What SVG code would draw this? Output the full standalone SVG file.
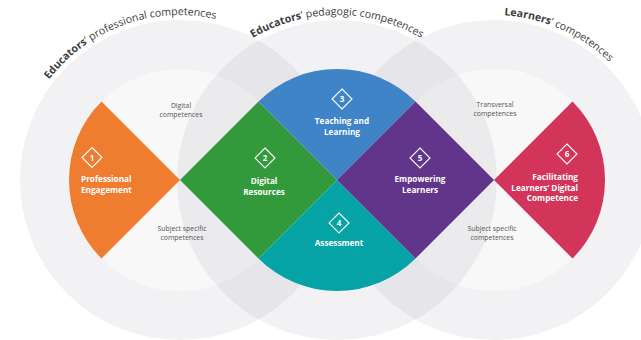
<svg xmlns="http://www.w3.org/2000/svg" xmlns:xlink="http://www.w3.org/1999/xlink" width="641" height="340" viewBox="0 0 641 340">
<style>
.ring{fill:none;stroke:#9a9aa8;stroke-opacity:0.13;stroke-width:49}
.inner{fill:#9a9aa8;fill-opacity:0.07}
.arc{font-family:"Open Sans","Liberation Sans",sans-serif;font-size:10.6px;fill:#3c3c3c}
.arc .b{font-weight:bold}
.lbl{font-family:"Open Sans","Liberation Sans",sans-serif;font-size:8.2px;font-weight:bold;fill:#fff}
.num{font-family:"Open Sans","Liberation Sans",sans-serif;font-size:8px;font-weight:bold;fill:#fff;text-anchor:middle}
.sm{font-family:"Open Sans","Liberation Sans",sans-serif;font-size:6.9px;fill:#555;text-anchor:middle}
.ic{fill:none;stroke:#fff;stroke-width:1.1}
</style>
<defs>
<path id="dia" d="M0,-10 L10,0 L0,10 L-10,0 Z"/>
<path id="pL" d="M15,180 A165 165 0 0 1 345,180"/>
<path id="pM" d="M172,180 A165 165 0 0 1 502,180"/>
<path id="pR" d="M329,180 A165 165 0 0 1 659,180"/>
</defs>
<rect width="641" height="340" fill="#fff"/>
<g id="background">
<circle class="ring" cx="180" cy="180" r="135.5"/>
<circle class="ring" cx="337" cy="180" r="135.5"/>
<circle class="ring" cx="494" cy="180" r="135.5"/>
<circle class="inner" cx="180" cy="180" r="111"/>
<circle class="inner" cx="337" cy="180" r="111"/>
<circle class="inner" cx="494" cy="180" r="111"/>
</g>
<g id="arc-titles">
<text class="arc"><textPath href="#pL" xlink:href="#pL" startOffset="38.9%" text-anchor="middle"><tspan class="b">Educators</tspan>’ professional competences</textPath></text>
<text class="arc"><textPath href="#pM" xlink:href="#pM" startOffset="50%" text-anchor="middle"><tspan class="b">Educators</tspan>’ pedagogic competences</textPath></text>
<text class="arc"><textPath href="#pR" xlink:href="#pR" startOffset="63.3%" text-anchor="middle"><tspan class="b">Learners</tspan>’ competences</textPath></text>
</g>
<g id="side-labels">
<text class="sm" x="181" y="107.5">Digital</text>
<text class="sm" x="181" y="116.5">competences</text>
<text class="sm" x="182" y="230.5">Subject specific</text>
<text class="sm" x="182" y="239.5">competences</text>
<text class="sm" x="495" y="106.5">Transversal</text>
<text class="sm" x="495" y="115.5">competences</text>
<text class="sm" x="492" y="230.5">Subject specific</text>
<text class="sm" x="492" y="239.5">competences</text>
</g>
<g id="node1">
<path d="M180,180 L101.51,101.51 A111 111 0 0 0 101.51,258.49 Z" fill="#EE7D30"/>
<use href="#dia" xlink:href="#dia" x="92" y="157.5" class="ic"/>
<text class="num" x="92" y="160.5">1</text>
<text class="lbl" x="81" y="182">Professional</text>
<text class="lbl" x="81" y="192.5">Engagement</text>
</g>
<g id="node2">
<path d="M180,180 L258.5,101.5 L337,180 L258.5,258.5 Z" fill="#329A3A"/>
<use href="#dia" xlink:href="#dia" x="265" y="158" class="ic"/>
<text class="num" x="265" y="161">2</text>
<text class="lbl" x="264" y="184" text-anchor="middle">Digital</text>
<text class="lbl" x="264" y="195" text-anchor="middle">Resources</text>
</g>
<g id="node3">
<path d="M337,180 L258.5,101.5 A111 111 0 0 1 415.5,101.5 Z" fill="#3E84C6"/>
<use href="#dia" xlink:href="#dia" x="342" y="99" class="ic"/>
<text class="num" x="342" y="102">3</text>
<text class="lbl" x="342" y="124" text-anchor="middle">Teaching and</text>
<text class="lbl" x="342" y="135" text-anchor="middle">Learning</text>
</g>
<g id="node4">
<path d="M337,180 L258.5,258.5 A111 111 0 0 0 415.5,258.5 Z" fill="#05A3A6"/>
<use href="#dia" xlink:href="#dia" x="339" y="223" class="ic"/>
<text class="num" x="339" y="226">4</text>
<text class="lbl" x="339" y="246" text-anchor="middle">Assessment</text>
</g>
<g id="node5">
<path d="M337,180 L415.5,101.5 L494,180 L415.5,258.5 Z" fill="#613589"/>
<use href="#dia" xlink:href="#dia" x="420" y="158" class="ic"/>
<text class="num" x="420" y="161">5</text>
<text class="lbl" x="420" y="182" text-anchor="middle">Empowering</text>
<text class="lbl" x="420" y="193" text-anchor="middle">Learners</text>
</g>
<g id="node6">
<path d="M494,180 L572.5,101.5 A111 111 0 0 1 572.5,258.5 Z" fill="#D23559"/>
<use href="#dia" xlink:href="#dia" x="567" y="154" class="ic"/>
<text class="num" x="567" y="157">6</text>
<text class="lbl" x="578" y="180" text-anchor="end">Facilitating</text>
<text class="lbl" x="578" y="190.5" text-anchor="end">Learners’ Digital</text>
<text class="lbl" x="578" y="201" text-anchor="end">Competence</text>
</g>
</svg>
